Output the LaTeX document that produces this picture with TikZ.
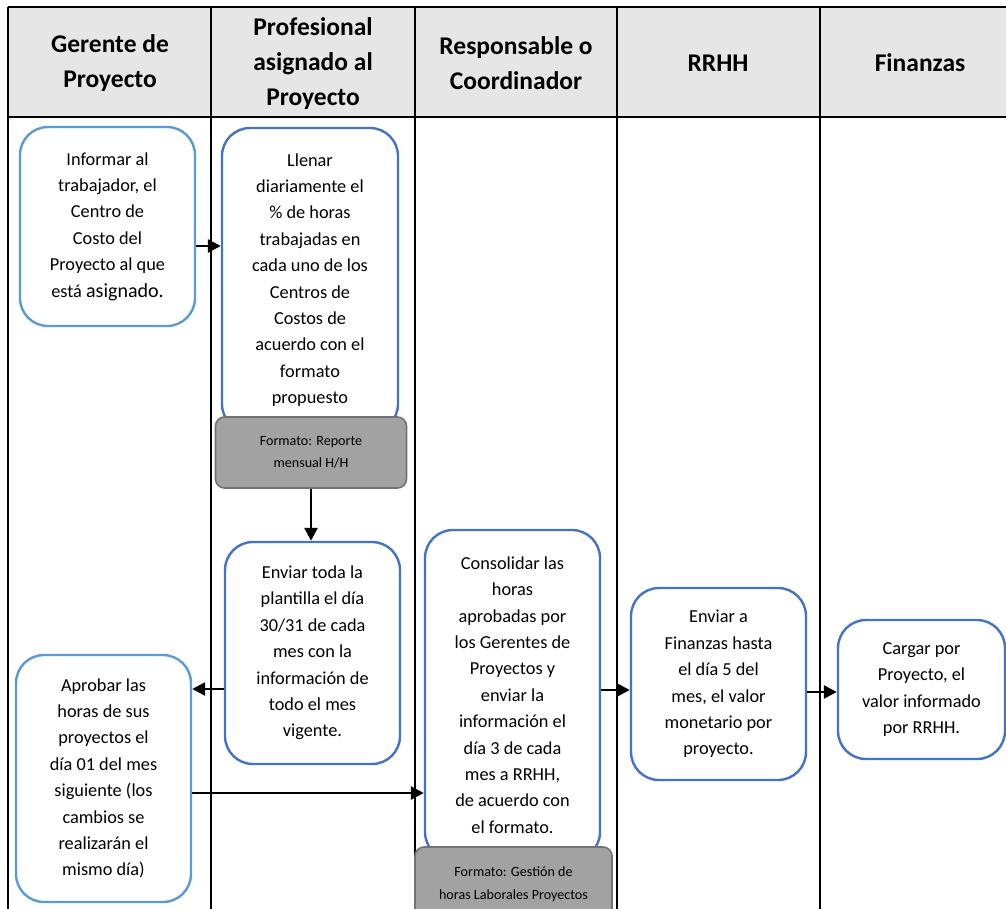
\documentclass[tikz,border=0pt]{standalone}
\usepackage{fontspec}
\setmainfont{Carlito}
\usetikzlibrary{arrows.meta}
\definecolor{lblue}{HTML}{5B9BD5}
\definecolor{dblue}{HTML}{4472C4}
\definecolor{hdr}{HTML}{E6E6E6}
\definecolor{fmtfill}{HTML}{A2A2A2}
\definecolor{fmtdraw}{HTML}{727272}
\tikzset{
  x=1pt, y=-1pt,
  grid/.style={line width=1.3pt, black},
  hdrtext/.style={font=\fontsize{25.5}{35}\selectfont\bfseries, align=center},
  task/.style={draw=#1, line width=2.4pt, rounded corners=28pt, fill=white,
    align=center, inner sep=0pt, font=\fontsize{18.3}{26.4}\selectfont},
  fmt/.style={draw=fmtdraw, line width=1.6pt, rounded corners=9pt, fill=fmtfill,
    align=center, inner sep=0pt, font=\fontsize{14.1}{22.5}\selectfont},
  arr/.style={line width=2.6pt, -{Triangle[length=13pt,width=13pt]}},
}
\begin{document}
\begin{tikzpicture}
\useasboundingbox (0,0) rectangle (1006,908);
\begin{scope}
\clip (0,0) rectangle (1006,908);
% header band and swimlane grid
\fill[hdr] (8,7) rectangle (1030,117);
\draw[grid] (8,7) -- (1030,7);
\draw[line width=2.6pt] (8,117) -- (1030,117);
\foreach \cx in {8,211,415,617,820}
  \draw[grid] (\cx,7) -- (\cx,912);
\end{scope}

% column titles
\node[hdrtext] (h1) at (110,63) {Gerente de\\Proyecto};
\node[hdrtext] (h2) at (313,64) {Profesional\\asignado al\\Proyecto};
\node[hdrtext] (h3) at (516,63) {Responsable o\\Coordinador};
\node[hdrtext] (h4) at (718,63) {RRHH};
\node[hdrtext] (h5) at (920,63) {Finanzas};

% activities
\node[task=lblue, minimum width=175pt, minimum height=199pt] (inf) at (107.5,226.5)
  {Informar al\\trabajador, el\\Centro de\\Costo del\\Proyecto al que\\está {\fontsize{20}{26.4}\selectfont asignado.}};
\node[task=dblue, minimum width=176pt, minimum height=304pt] (llen) at (310,280)
  {Llenar\\diariamente el\\\% de horas\\trabajadas en\\cada uno de los\\Centros de\\Costos de\\acuerdo con el\\formato\\propuesto};
\node[fmt, minimum width=191pt, minimum height=71pt] (fmt1) at (311,452.5)
  {Formato: Reporte\\mensual H/H};
\node[task=dblue, minimum width=175pt, minimum height=222pt] (env) at (312.5,653)
  {Enviar toda la\\plantilla el día\\30/31 de cada\\mes con la\\información de\\todo el mes\\vigente.};
\node[task=lblue, minimum width=175pt, minimum height=247pt] (apr) at (103.5,778.5)
  {Aprobar las\\horas de sus\\proyectos el\\día 01 del mes\\siguiente (los\\cambios se\\realizarán el\\mismo día)};
\node[task=dblue, minimum width=175pt, minimum height=330pt] (cons) at (512.5,695)
  {Consolidar las\\horas\\aprobadas por\\los Gerentes de\\Proyectos y\\enviar la\\información el\\día 3 de cada\\mes a RRHH,\\de acuerdo con\\el formato.};
\node[fmt, minimum width=197pt, minimum height=74pt] (fmt2) at (513.5,884)
  {Formato: Gestión de\\horas Laborales Proyectos};
\node[task=dblue, minimum width=175pt, minimum height=192pt] (enva) at (718.5,684)
  {Enviar a\\Finanzas hasta\\el día 5 del\\mes, el valor\\monetario por\\proyecto.};
\node[task=dblue, minimum width=167pt, minimum height=139pt] (carg) at (921.5,689.5)
  {Cargar por\\Proyecto, el\\valor informado\\por RRHH.};

% flow
\coordinate (y1) at (0,246);
\coordinate (y2) at (0,689);
\coordinate (y3) at (0,793);
\coordinate (y4) at (0,690);
\coordinate (y5) at (0,692);
\draw[arr] (inf.east |- y1) -- (llen.west |- y1);
\draw[arr] (fmt1.south) -- (fmt1.south |- env.north);
\draw[arr] (env.west |- y2) -- (apr.east |- y2);
\draw[arr] (apr.east |- y3) -- (cons.west |- y3);
\draw[arr] (cons.east |- y4) -- (enva.west |- y4);
\draw[arr] (enva.east |- y5) -- (carg.west |- y5);
\end{tikzpicture}
\end{document}
